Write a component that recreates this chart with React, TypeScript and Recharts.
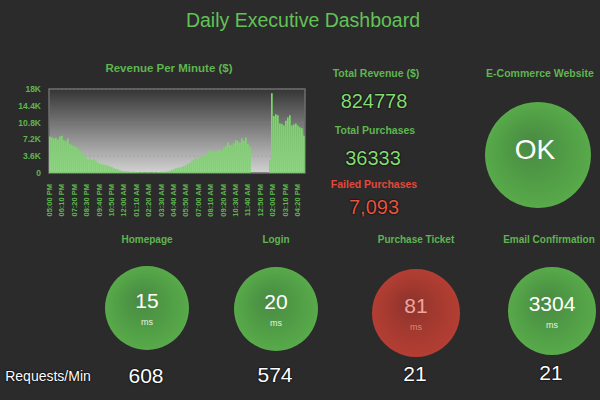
import React from 'react';
import {
  BarChart, Bar, XAxis, YAxis, CartesianGrid, ReferenceArea, PieChart, Pie, Cell,
} from 'recharts';

// revenue per minute, in thousands of dollars (one bar per ~11 min)
const revenueK = [
  7.8, 7.6, 7.4, 7.5, 7.2, 7.8, 8.0, 7.0, 6.8, 7.4, 6.2, 6.0, 5.8, 5.6, 5.2, 4.9,
  4.3, 3.8, 3.2, 2.9, 3.1, 2.8, 3.0, 2.6, 2.2, 2.0, 1.9, 1.8, 1.7, 1.6, 1.4, 1.3,
  1.0, 0.9, 0.8, 0.6, 0.5, 0.4, 0.4, 0.3, 0.3, 0.2, 0.3, 0.2, 0.2, 0.1, 0.2, 0.1,
  0.1, 0.2, 0.1, 0.1, 0.2, 0.1, 0.2, 0.2, 0.3, 0.2, 0.3, 0.4, 0.5, 0.7, 0.8, 1.0,
  1.1, 1.2, 1.3, 1.5, 1.7, 2.0, 2.2, 2.6, 2.9, 3.3, 3.0, 3.5, 3.8, 3.6, 4.0, 4.6,
  4.9, 4.7, 4.5, 4.6, 4.9, 5.0, 4.8, 5.4, 5.8, 6.6, 6.0, 5.9, 6.4, 7.0, 6.8, 6.5,
  7.4, 6.9, 7.6, 6.2, 5.6, 0, 0, 0, 0, 0, 0, 0, 0, 0, 2.8, 17.1,
  12.2, 12.6, 12.4, 10.6, 10.5, 10.2, 11.2, 11.9, 12.4, 10.2, 10.4, 10.6, 10.2, 9.8, 9.6, 8.0,
];

const timeLabels = [
  '05:00 PM', '06:10 PM', '07:20 PM', '08:30 PM', '09:40 PM', '10:50 PM', '12:00 AM',
  '01:10 AM', '02:20 AM', '03:30 AM', '04:40 AM', '05:50 AM', '07:00 AM', '08:10 AM',
  '09:20 AM', '10:30 AM', '11:40 AM', '12:50 PM', '02:00 PM', '03:10 PM', '04:20 PM',
];

const yTicks = [0, 3600, 7200, 10800, 14400, 18000];

const totalRevenue = '824778';
const totalPurchases = '36333';
const failedPurchases = '7,093';
const siteStatus = 'OK';

const serviceNames = ['Homepage', 'Login', 'Purchase Ticket', 'Email Confirmation'];
const responseMs = [15, 20, 81, 3304];
const requestsPerMin = [608, 574, 21, 21];
const serviceOk = [true, true, false, true];

const BG = '#2b2b2b';
const GREEN = '#62c257';
const LABEL_GREEN = '#5fb550';
const RED = '#e0493b';
const BAR = '#76da66';
const FONT = '"Liberation Sans", Arial, sans-serif';

const BAR_COUNT = revenueK.length;
const TICK_STEP = 6.2;

const barData = revenueK.map((v, i) => ({ x: i + 0.5, revenue: v * 1000 }));
const tickPositions = timeLabels.map((_, i) => i * TICK_STEP);

// service circle layout
const circleX = [147, 276, 416, 552];
const circleY = [308, 309, 313, 311];
const circleR = [42, 42, 44, 44];
const requestsY = [375, 374, 373, 372];

function TimeTick(props: any) {
  const { x, y, payload } = props;
  const idx = Math.round(payload.value / TICK_STEP);
  return (
    <text
      x={x + 3}
      y={y + 3}
      transform={`rotate(-90 ${x + 3} ${y + 3})`}
      textAnchor="end"
      fill={LABEL_GREEN}
      fontSize={7.5}
      fontWeight="bold"
      fontFamily={FONT}
    >
      {timeLabels[idx]}
    </text>
  );
}

function Txt({ x, y, size, color, children, bold, shadow }: any) {
  return (
    <div
      style={{
        position: 'absolute', left: x, top: y, transform: 'translate(-50%, -50%)',
        fontSize: size, color, fontFamily: FONT, lineHeight: 1, whiteSpace: 'nowrap',
        fontWeight: bold ? 'bold' : 'normal',
        textShadow: shadow ? '0 0 2px #000, 0 0 1px #000' : undefined,
      }}
    >
      {children}
    </div>
  );
}

export default function App() {
  return (
    <div style={{ position: 'fixed', left: 0, top: 0, width: 600, height: 400, background: BG, overflow: 'hidden' }}>
      {/* status circles */}
      <div style={{ position: 'absolute', left: 0, top: 0 }}>
        <PieChart width={600} height={400} margin={{ top: 0, right: 0, bottom: 0, left: 0 }}>
          <defs>
            <radialGradient id="gGreen" cx="50%" cy="50%" r="50%" fx="42%" fy="38%">
              <stop offset="0%" stopColor="#4a8944" />
              <stop offset="50%" stopColor="#4f9a45" />
              <stop offset="100%" stopColor="#58aa4a" />
            </radialGradient>
            <radialGradient id="gRed" cx="50%" cy="50%" r="50%" fx="42%" fy="38%">
              <stop offset="0%" stopColor="#8a332e" />
              <stop offset="50%" stopColor="#a2392f" />
              <stop offset="100%" stopColor="#b43e33" />
            </radialGradient>
          </defs>
          <Pie
            data={[{ name: 'site', value: 1 }]}
            dataKey="value"
            cx={538}
            cy={155}
            outerRadius={53}
            stroke="none"
            isAnimationActive={false}
          >
            <Cell fill="url(#gGreen)" />
          </Pie>
          {serviceNames.map((name, i) => (
            <Pie
              key={name}
              data={[{ name, value: 1 }]}
              dataKey="value"
              cx={circleX[i]}
              cy={circleY[i]}
              outerRadius={circleR[i]}
              stroke="none"
              isAnimationActive={false}
            >
              <Cell fill={serviceOk[i] ? 'url(#gGreen)' : 'url(#gRed)'} />
            </Pie>
          ))}
        </PieChart>
      </div>

      {/* revenue bar chart */}
      <div style={{ position: 'absolute', left: 0, top: 84 }}>
        <BarChart
          width={309}
          height={145}
          data={barData}
          margin={{ top: 5, right: 4, bottom: 0, left: 0 }}
        >
          <defs>
            <linearGradient id="plotBg" x1="0" y1="0" x2="0" y2="1">
              <stop offset="0%" stopColor="#353535" />
              <stop offset="100%" stopColor="#d2d2d2" />
            </linearGradient>
          </defs>
          <CartesianGrid
            vertical={false}
            fill="url(#plotBg)"
            stroke="#8a8a8a"
            strokeOpacity={0.35}
            strokeDasharray="2 2"
          />
          <XAxis
            dataKey="x"
            type="number"
            domain={[0, BAR_COUNT]}
            ticks={tickPositions}
            interval={0}
            tick={<TimeTick />}
            tickLine={false}
            axisLine={false}
            height={56}
          />
          <YAxis
            domain={[0, 18000]}
            ticks={yTicks}
            width={49}
            tickLine={false}
            axisLine={false}
            tick={{ fill: LABEL_GREEN, fontSize: 8.5, fontWeight: 'bold', fontFamily: FONT }}
            tickFormatter={(v: number) => (v === 0 ? '0' : `${+(v / 1000).toFixed(1)}K`)}
          />
          <Bar dataKey="revenue" fill={BAR} barSize={1.7} isAnimationActive={false} />
          <ReferenceArea x1={0} x2={BAR_COUNT} y1={0} y2={18000} fill="none" stroke="#6e6e6e" strokeWidth={1.5} />
        </BarChart>
      </div>

      <Txt x={303} y={21} size={19.5} color={GREEN}>Daily Executive Dashboard</Txt>
      <Txt x={169} y={69} size={11.5} color={LABEL_GREEN} bold>Revenue Per Minute ($)</Txt>

      <Txt x={376} y={73} size={10.5} color={LABEL_GREEN} bold>Total Revenue ($)</Txt>
      <Txt x={374} y={101} size={20} color="#86dc73" shadow>{totalRevenue}</Txt>
      <Txt x={375} y={130} size={10.5} color={LABEL_GREEN} bold>Total Purchases</Txt>
      <Txt x={373} y={158} size={20} color="#86dc73" shadow>{totalPurchases}</Txt>
      <Txt x={374} y={184} size={10.5} color={RED} bold>Failed Purchases</Txt>
      <Txt x={374} y={207} size={20} color="#e8553f" shadow>{failedPurchases}</Txt>

      <Txt x={540} y={73} size={10.5} color={LABEL_GREEN} bold>E-Commerce Website</Txt>
      <Txt x={535} y={150} size={28} color="#ffffff">{siteStatus}</Txt>

      {serviceNames.map((name, i) => (
        <React.Fragment key={name}>
          <Txt x={circleX[i] - (i === 3 ? 3 : 0)} y={240} size={10} color={LABEL_GREEN} bold>{name}</Txt>
          <Txt x={circleX[i]} y={circleY[i] - 8} size={21} color={serviceOk[i] ? '#ffffff' : '#f0a49a'}>{responseMs[i]}</Txt>
          <Txt x={circleX[i]} y={circleY[i] + 14} size={9} color={serviceOk[i] ? '#e6f2e0' : '#d8877c'}>ms</Txt>
          <Txt x={circleX[i] - 1} y={requestsY[i]} size={21} color="#ffffff" shadow>{requestsPerMin[i]}</Txt>
        </React.Fragment>
      ))}
      <Txt x={48} y={376} size={14} color="#ffffff" shadow>Requests/Min</Txt>
    </div>
  );
}
